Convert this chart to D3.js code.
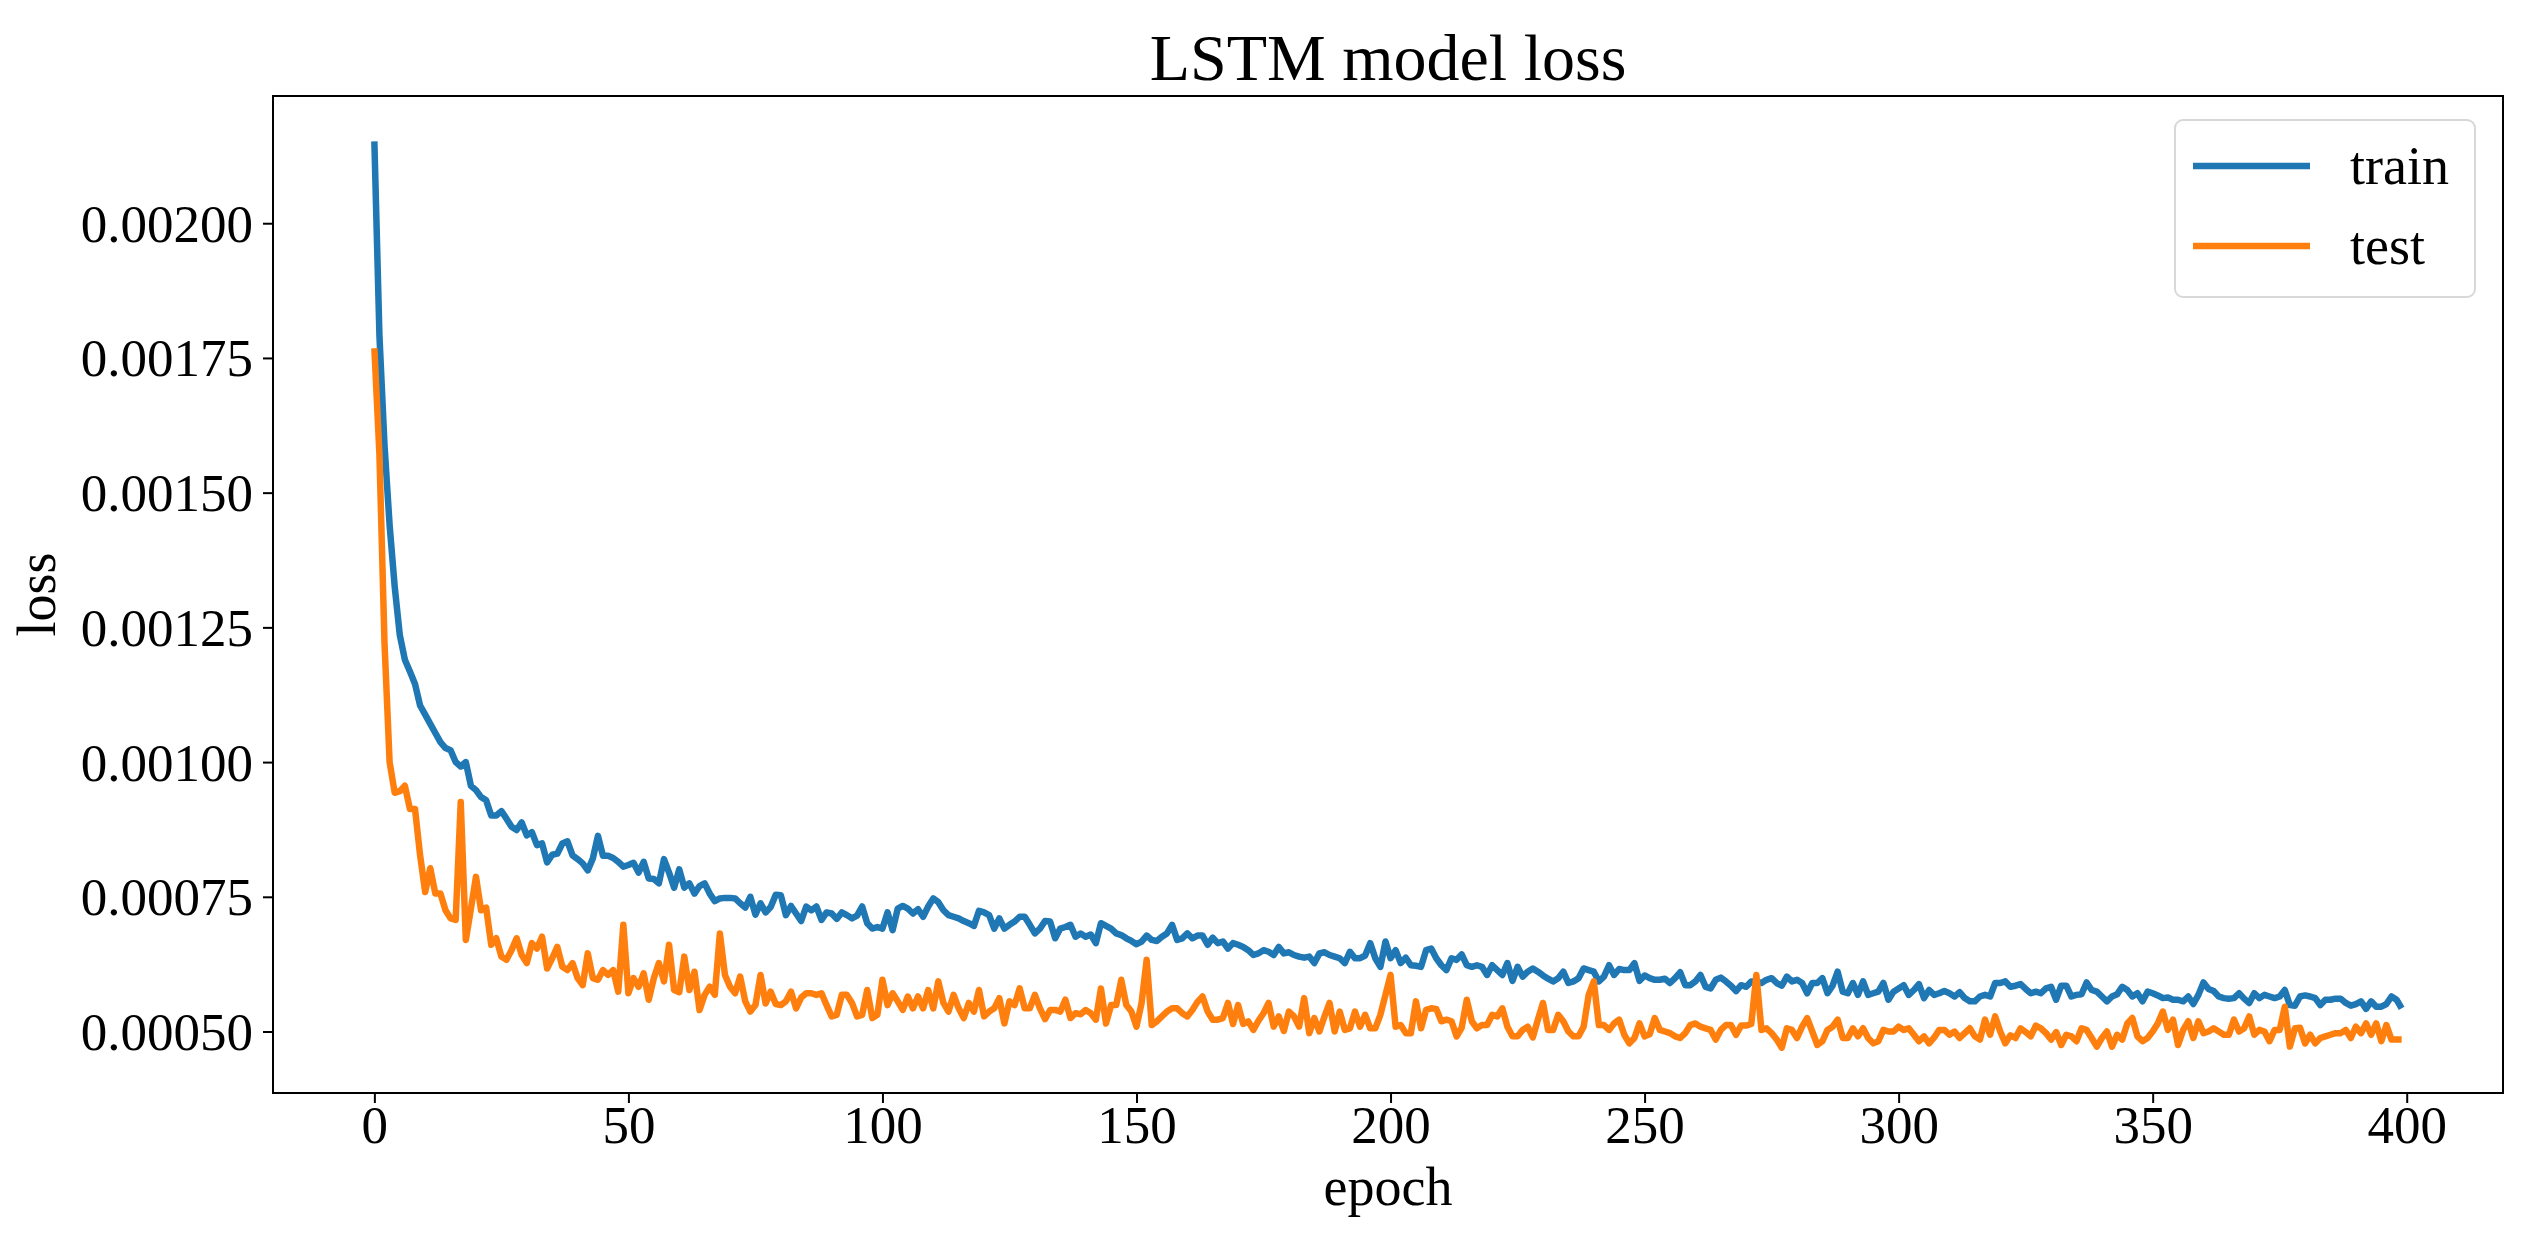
<!DOCTYPE html>
<html>
<head>
<meta charset="utf-8">
<script src="https://cdn.jsdelivr.net/npm/d3@7"></script>
<style>
  body { margin: 0; background: #fff; }
  text { font-family: "Liberation Serif", "DejaVu Serif", serif; fill: #000; }
</style>
</head>
<body>
<script>
// loss values, in units of 1e-5
const UNIT = 1e-5

const trainLoss = [
  215.2, 179.1, 158.7, 144.0, 132.6, 123.6, 119.0, 116.8, 114.5, 110.5,
  108.8, 107.1, 105.4, 103.7, 102.6, 102.2, 100.0, 99.2, 100.0,
  95.6, 94.8, 93.5, 92.9, 90.1, 90.1, 90.9, 89.5, 88.0, 87.4,
  88.8, 86.4, 87.0, 84.6, 84.9, 81.4, 82.8, 83.0, 84.9, 85.3,
  82.7, 82.0, 81.2, 79.9, 82.1, 86.3, 82.6, 82.6, 82.2, 81.5,
  80.6, 80.9, 81.3, 79.5, 81.5, 78.4, 78.3, 77.5, 82.0, 79.5,
  76.7, 80.1, 76.7, 77.5, 75.6, 77.0, 77.5, 75.6, 74.2, 74.7,
  74.8, 74.8, 74.7, 73.8, 73.0, 75.0, 71.7, 73.8, 72.1, 73.1,
  75.4, 75.3, 71.6,
  73.3, 71.9, 70.5, 73.2, 72.5, 73.2, 70.7, 72.1, 71.9, 70.9,
  72.1, 71.6, 71.0, 71.5, 73.2, 70.1, 69.1, 69.4, 69.1, 72.1,
  68.8, 72.8, 73.3, 72.8, 71.9, 72.7, 71.3, 73.2, 74.7, 74.0,
  72.5, 71.6, 71.3, 71.0, 70.5, 70.1, 69.6, 72.4, 72.1, 71.6,
  69.1, 71.0, 69.1, 69.8, 70.4, 71.3, 71.3, 69.8, 68.2, 69.1,
  70.5, 70.4, 67.3, 69.1, 69.4, 69.8, 67.6, 68.2, 67.6, 68.0,
  66.4, 70.1, 69.6, 69.1, 68.2, 67.9, 67.3, 66.8, 66.2, 66.7,
  67.8, 67.0, 66.8, 67.6, 68.2, 69.8, 67.0, 67.3, 68.2, 67.3, 67.8,
  67.8, 66.1, 67.4, 66.4, 66.7, 65.4, 66.4, 66.1, 65.7, 65.1,
  64.2, 64.5, 65.1, 64.8, 64.2, 65.7, 64.5, 64.7, 64.2, 63.9,
  63.7, 63.9, 62.7, 64.5, 64.7, 64.2, 63.9, 63.6, 62.7, 64.8,
  63.6, 63.6, 64.1, 66.4, 63.6, 62.0, 66.7, 63.6, 65.1, 62.7,
  63.7, 62.3, 62.2, 62.0, 65.1, 65.4, 63.6, 62.3, 61.4, 63.6,
  63.3, 64.3, 62.3, 62.0, 62.3, 62.0, 60.5, 62.3, 61.4, 60.5,
  62.7, 59.4, 62.0, 60.2, 61.1, 61.7, 61.1, 60.4, 59.8, 59.3,
  59.9, 61.1, 59.0, 59.3, 59.9, 61.7, 61.4, 61.1, 59.3, 60.2, 62.3,
  60.5, 61.6, 61.4, 61.4, 62.7, 59.4, 60.4, 59.9, 59.6, 59.6,
  59.8, 59.0, 59.9, 61.0, 58.6, 58.6, 59.3, 60.5, 58.3, 58.0,
  59.6, 60.0, 59.3, 58.5, 57.5, 58.6, 58.3, 59.3, 59.3, 59.0,
  59.6, 59.9, 59.0, 58.5, 60.2, 59.3, 59.6, 59.0, 57.1, 59.0,
  59.0, 59.9, 57.1, 58.5, 61.1, 57.4, 57.1, 59.0, 56.8, 59.3,
  56.8, 57.1, 57.4, 59.0, 55.9, 57.4, 58.0, 58.6, 56.8, 57.7,
  58.8, 56.2, 57.7, 56.8, 57.1, 57.5, 57.1, 56.5, 57.3, 56.2,
  55.6, 55.6, 56.5, 56.8, 56.5, 59.0, 59.0, 59.3, 58.3, 58.5, 58.8,
  57.9, 57.1, 57.4, 57.1, 58.0, 58.3, 55.9, 58.5, 58.5, 56.5,
  56.8, 56.9, 59.1, 57.7, 57.4, 56.5, 55.6, 56.5, 56.9, 58.3,
  57.7, 56.5, 57.1, 55.6, 57.4, 57.1, 56.7, 56.2, 56.3, 55.9,
  55.9, 55.6, 56.5, 55.1, 56.8, 59.1, 57.9, 57.5, 56.5, 56.2,
  56.1, 56.2, 57.1, 56.1, 55.3, 57.1, 56.2, 56.8, 56.5, 56.2,
  56.5, 57.7, 54.9, 54.8, 56.5, 56.7, 56.5, 56.2, 54.9, 55.9,
  55.9, 56.1, 56.1, 55.3, 54.8, 55.1, 55.6, 54.2, 55.6, 54.6,
  54.6, 55.1, 56.5, 55.9, 54.3
]

const testLoss = [
  176.8, 157.0, 122.0, 100.0, 94.3, 94.6, 95.6, 91.3, 91.3, 82.7,
  75.9, 80.3, 75.6, 75.6, 72.5, 71.0, 70.7, 92.6, 67.0,
  72.8, 78.7, 72.5, 73.0, 66.1, 67.3, 63.9, 63.3, 65.1, 67.3,
  64.2, 62.7, 66.4, 65.4, 67.6, 61.7, 63.6, 65.7, 62.0, 61.4,
  62.7, 59.9, 58.6, 64.5, 59.9, 59.6, 61.4, 60.5, 61.4, 57.4,
  69.8, 57.1, 59.9, 58.3, 60.8, 55.9, 59.9, 62.7, 59.3, 66.1,
  57.7, 57.3, 63.9, 57.7, 61.1, 54.0, 56.8, 58.3, 56.8, 68.2,
  60.5, 58.3, 57.1, 60.2, 55.6, 53.7, 54.9, 60.5, 55.2, 57.4,
  55.1, 54.9, 55.6,
  57.4, 54.3, 56.3, 57.1, 57.1, 56.8, 57.1, 54.9, 52.8, 53.1,
  56.8, 56.8, 55.3, 52.8, 53.1, 57.7, 52.5, 53.1, 59.6, 54.9,
  57.1, 55.6, 54.0, 56.5, 54.3, 56.5, 54.3, 57.7, 54.3, 59.3,
  55.3, 53.7, 56.8, 54.3, 52.5, 55.3, 53.7, 57.7, 52.8, 53.7,
  54.3, 56.2, 51.5, 55.6, 54.9, 58.0, 54.3, 54.3, 56.8, 54.3,
  52.3, 54.0, 54.0, 53.7, 55.9, 52.5, 53.4, 53.2, 54.0, 53.4,
  52.2, 58.0, 51.5, 54.9, 54.9, 59.6, 54.9, 53.7, 50.9, 55.3,
  63.3, 51.2, 51.9, 52.8, 53.7, 54.3, 54.3, 53.4, 52.8, 54.0, 55.5,
  56.5, 53.7, 52.2, 52.2, 52.5, 55.3, 51.4, 54.9, 51.4, 51.9,
  50.3, 52.0, 53.4, 55.3, 50.9, 52.8, 50.1, 53.7, 52.8, 50.9,
  56.2, 49.7, 52.5, 50.0, 52.8, 55.3, 50.0, 53.7, 50.3, 50.6,
  53.7, 50.9, 53.1, 50.6, 50.6, 53.1, 56.8, 60.5, 50.9, 51.2,
  49.7, 49.7, 55.6, 50.6, 54.0, 54.3, 54.2, 51.9, 52.2, 51.9,
  49.1, 50.7, 55.9, 51.9, 50.6, 51.2, 51.2, 53.1, 52.8, 54.3,
  50.9, 49.1, 49.1, 50.3, 50.9, 48.9, 52.2, 55.3, 50.3, 50.3,
  53.1, 51.9, 50.0, 49.1, 49.1, 50.9, 56.8, 59.3, 51.2, 51.2, 50.3,
  51.5, 52.2, 49.4, 47.8, 48.8, 51.5, 49.1, 49.5, 52.5, 50.3,
  50.0, 49.7, 49.1, 48.8, 49.7, 51.2, 51.5, 50.9, 50.6, 50.3,
  48.5, 50.3, 51.2, 51.2, 49.4, 51.1, 51.1, 51.4, 60.5, 50.3,
  50.6, 49.7, 48.5, 47.0, 50.6, 50.3, 48.8, 50.9, 52.5, 50.0,
  47.5, 48.2, 50.3, 50.9, 52.2, 48.8, 48.8, 50.6, 49.1, 50.6,
  48.8, 47.8, 48.2, 50.3, 50.0, 50.0, 50.9, 50.3, 50.6, 49.4,
  48.2, 49.1, 47.8, 48.9, 50.3, 50.3, 49.4, 50.0, 48.8, 49.7,
  50.6, 49.1, 48.5, 52.2, 49.4, 52.8, 50.0, 47.8, 49.3, 48.8, 50.6,
  49.9, 49.1, 51.1, 50.6, 49.7, 48.5, 49.9, 47.5, 49.4, 49.1,
  48.2, 50.6, 50.3, 48.8, 47.2, 48.8, 50.0, 47.2, 49.4, 48.5,
  51.5, 52.5, 49.1, 48.2, 48.8, 50.0, 51.5, 53.7, 50.3, 52.2,
  47.5, 50.3, 51.9, 48.8, 51.9, 49.7, 50.0, 50.6, 50.0, 49.4,
  49.4, 52.2, 50.0, 50.6, 52.8, 49.4, 50.3, 50.0, 48.2, 50.3,
  50.3, 54.6, 47.2, 50.6, 50.7, 47.8, 49.4, 47.8, 48.8, 49.1,
  49.4, 49.7, 49.7, 50.3, 48.8, 50.9, 49.7, 51.5, 49.4, 51.5,
  48.2, 51.2, 48.5, 48.5, 48.5
]

const seriesNames = ['train', 'test']
const xTicks = [0, 50, 100, 150, 200, 250, 300, 350, 400]
const yTicks = [0.0005, 0.00075, 0.001, 0.00125, 0.0015, 0.00175, 0.002]

const colors = {train: '#1f77b4', test: '#ff7f0e'}

const series = [
  {name: seriesNames[0], values: trainLoss.map((v, i) => ({epoch: i, loss: v * UNIT}))},
  {name: seriesNames[1], values: testLoss.map((v, i) => ({epoch: i, loss: v * UNIT}))}
]

// parameters
const width = 2533
const height = 1244
const margin = {top: 96, right: 30, bottom: 151, left: 273}
const innerW = width - margin.left - margin.right
const innerH = height - margin.top - margin.bottom

const svg = d3.select('body').append('svg')
  .attr('width', width)
  .attr('height', height)

const chart = svg.append('g')
  .attr('transform', `translate(${margin.left}, ${margin.top})`)

// matplotlib style 5% padding
const all = series.flatMap(s => s.values)
const xExt = d3.extent(all, d => d.epoch)
const yExt = d3.extent(all, d => d.loss)
const xPad = (xExt[1] - xExt[0]) * 0.05
const yPad = (yExt[1] - yExt[0]) * 0.05

const xScale = d3.scaleLinear()
  .domain([xExt[0] - xPad, xExt[1] + xPad])
  .range([0, innerW])

const yScale = d3.scaleLinear()
  .domain([yExt[0] - yPad, yExt[1] + yPad])
  .range([innerH, 0])

const line = d3.line()
  .x(d => xScale(d.epoch))
  .y(d => yScale(d.loss))

chart.selectAll('path.series')
  .data(series)
  .enter()
  .append('path')
  .attr('class', 'series')
  .attr('d', d => line(d.values))
  .attr('fill', 'none')
  .attr('stroke', d => colors[d.name])
  .attr('stroke-width', 6.5)
  .attr('stroke-linejoin', 'round')
  .attr('stroke-linecap', 'butt')

// axes
const xAxis = d3.axisBottom(xScale)
  .tickValues(xTicks)
  .tickSize(10)
  .tickPadding(2)
  .tickFormat(d3.format('d'))

const yAxis = d3.axisLeft(yScale)
  .tickValues(yTicks)
  .tickSize(10)
  .tickPadding(10)
  .tickFormat(d3.format('.5f'))

const gx = chart.append('g')
  .attr('transform', `translate(0, ${innerH})`)
  .call(xAxis)

const gy = chart.append('g')
  .call(yAxis)

gx.select('.domain').remove()
gy.select('.domain').remove()

gx.selectAll('line').attr('stroke', '#000').attr('stroke-width', 2)
gy.selectAll('line').attr('stroke', '#000').attr('stroke-width', 2)

gx.selectAll('text')
  .attr('font-size', 53)
  .attr('dy', '0.72em')
  .style('font-family', '"Liberation Serif", serif')

gy.selectAll('text')
  .attr('font-size', 53)
  .attr('dy', '0.34em')
  .style('font-family', '"Liberation Serif", serif')

// frame
chart.append('rect')
  .attr('x', 0)
  .attr('y', 0)
  .attr('width', innerW)
  .attr('height', innerH)
  .attr('fill', 'none')
  .attr('stroke', '#000')
  .attr('stroke-width', 2)

// labels
svg.append('text')
  .attr('x', margin.left + innerW / 2)
  .attr('y', 80)
  .attr('text-anchor', 'middle')
  .attr('font-size', 66)
  .text('LSTM model loss')

svg.append('text')
  .attr('x', margin.left + innerW / 2)
  .attr('y', 1205)
  .attr('text-anchor', 'middle')
  .attr('font-size', 54)
  .text('epoch')

svg.append('text')
  .attr('transform', `translate(55, ${margin.top + innerH / 2}) rotate(-90)`)
  .attr('text-anchor', 'middle')
  .attr('font-size', 54)
  .text('loss')

// legend
const legend = svg.append('g')
  .attr('transform', 'translate(2175, 120)')

legend.append('rect')
  .attr('width', 300)
  .attr('height', 177)
  .attr('rx', 8)
  .attr('fill', '#fff')
  .attr('fill-opacity', 0.8)
  .attr('stroke', '#d8d8d8')
  .attr('stroke-width', 2)

const item = legend.selectAll('g.item')
  .data(seriesNames)
  .enter()
  .append('g')
  .attr('class', 'item')
  .attr('transform', (d, i) => `translate(0, ${46 + i * 80})`)

item.append('line')
  .attr('x1', 18)
  .attr('x2', 135)
  .attr('stroke', d => colors[d])
  .attr('stroke-width', 6.5)

item.append('text')
  .attr('x', 175)
  .attr('dy', '0.33em')
  .attr('font-size', 54)
  .text(d => d)
</script>
</body>
</html>
